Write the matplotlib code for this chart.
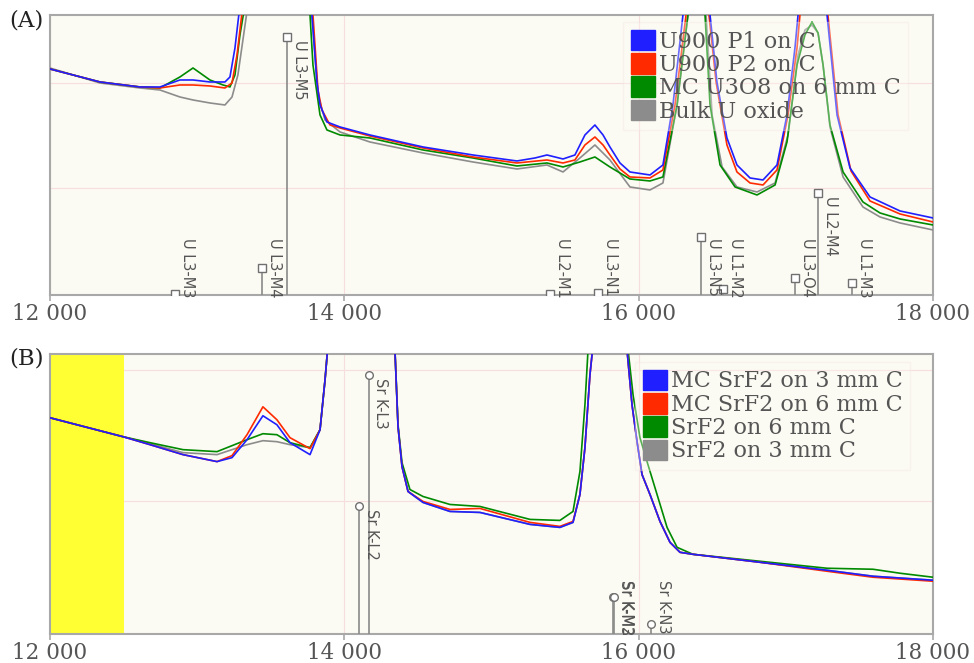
#!/usr/bin/env python3
"""Two-panel XRF spectra: (A) uranium samples, (B) SrF2 samples, with line markers."""

import matplotlib
import matplotlib.pyplot as plt
import matplotlib.patches as mpatches

matplotlib.use("Agg")

# ---------------------------------------------------------------------------
# Data (energy in eV, counts in arbitrary units;
# values above the axis limit are the off-scale peak tops)
# ---------------------------------------------------------------------------

A_P1 = [(12000, 226), (12340, 213), (12612, 208), (12747, 208), (12883, 215), (12972, 215),
        (13087, 213), (13189, 213), (13223, 218), (13257, 247), (13291, 290), (13550, 1200),
        (13780, 280), (13814, 213), (13835, 190), (13882, 173), (13971, 168), (14174, 160),
        (14535, 148), (14874, 140), (15173, 134), (15296, 137), (15377, 140), (15486, 136),
        (15567, 140), (15635, 160), (15703, 170), (15758, 160), (15805, 148), (15873, 132),
        (15941, 123), (16077, 120), (16165, 130), (16233, 190), (16301, 280), (16396, 1200),
        (16485, 280), (16532, 213), (16600, 157), (16668, 130), (16757, 117), (16845, 115),
        (16940, 130), (17008, 180), (17062, 247), (17083, 280), (17185, 1200), (17280, 280),
        (17348, 180), (17436, 127), (17572, 98), (17776, 84), (18000, 77)]

A_P2 = [(12000, 226), (12340, 213), (12612, 208), (12747, 207), (12883, 210), (12972, 210),
        (13087, 209), (13189, 207), (13237, 212), (13271, 240), (13311, 290), (13550, 1200),
        (13787, 280), (13821, 205), (13848, 185), (13903, 170), (13971, 167), (14174, 159),
        (14535, 147), (14874, 138), (15173, 132), (15377, 135), (15486, 132), (15567, 135),
        (15635, 150), (15703, 158), (15758, 150), (15805, 140), (15873, 126), (15941, 118),
        (16077, 117), (16165, 125), (16247, 190), (16322, 280), (16403, 1200), (16478, 280),
        (16526, 213), (16600, 150), (16668, 123), (16757, 112), (16845, 110), (16940, 125),
        (17015, 180), (17076, 247), (17096, 280), (17185, 1200), (17286, 280), (17355, 180),
        (17443, 124), (17572, 94), (17776, 81), (18000, 73)]

A_U3O8 = [(12000, 226), (12340, 213), (12612, 208), (12747, 207), (12883, 218), (12972, 227),
          (13087, 215), (13176, 210), (13223, 208), (13257, 220), (13291, 260), (13325, 290),
          (13550, 1200), (13767, 280), (13787, 230), (13835, 180), (13882, 165), (13971, 160),
          (14174, 157), (14535, 145), (14874, 137), (15173, 129), (15377, 132), (15486, 128),
          (15601, 133), (15703, 138), (15805, 128), (15941, 116), (16077, 114), (16165, 118),
          (16261, 190), (16335, 280), (16403, 1200), (16451, 280), (16485, 190), (16553, 130),
          (16655, 108), (16804, 100), (16927, 110), (17008, 153), (17076, 230), (17130, 260),
          (17178, 273), (17219, 262), (17253, 230), (17300, 170), (17389, 123), (17524, 93),
          (17640, 82), (17776, 76), (18000, 70)]

A_BULK = [(12000, 227), (12340, 212), (12612, 207), (12747, 205), (12883, 198), (12972, 195),
          (13087, 192), (13189, 190), (13237, 198), (13277, 220), (13311, 255), (13345, 290),
          (13550, 1200), (13780, 280), (13821, 200), (13869, 175), (13971, 163), (14174, 153),
          (14535, 142), (14874, 133), (15173, 126), (15377, 130), (15486, 123), (15601, 137),
          (15703, 150), (15805, 135), (15941, 108), (16077, 105), (16165, 112), (16261, 190),
          (16335, 280), (16403, 1200), (16458, 280), (16499, 180), (16567, 128), (16668, 108),
          (16804, 103), (16927, 112), (17015, 160), (17083, 240), (17130, 265), (17178, 270),
          (17219, 262), (17253, 230), (17300, 168), (17389, 118), (17524, 88), (17640, 78),
          (17776, 72), (18000, 65)]

B_MC3 = [(12000, 217), (12496, 198), (12680, 190), (12904, 180), (13135, 173), (13237, 177),
         (13339, 195), (13447, 219), (13542, 210), (13631, 192), (13767, 180), (13835, 205),
         (13869, 255), (13889, 290), (14120, 1200), (14344, 285), (14365, 208), (14392, 168),
         (14433, 143), (14535, 132), (14718, 123), (14922, 122), (15262, 110), (15465, 107),
         (15554, 112), (15601, 140), (15635, 187), (15669, 260), (15690, 290), (15805, 1200),
         (15921, 285), (15955, 230), (15989, 193), (16023, 160), (16077, 140), (16145, 113),
         (16213, 92), (16281, 82), (16369, 80), (16825, 72), (17280, 64), (17592, 58), (18000, 54)]

B_MC6 = [(12000, 217), (12496, 198), (12680, 190), (12904, 180), (13135, 173), (13237, 179),
         (13339, 200), (13447, 228), (13542, 215), (13631, 197), (13767, 186), (13835, 205),
         (13869, 255), (13889, 290), (14120, 1200), (14344, 285), (14365, 208), (14392, 168),
         (14433, 143), (14535, 133), (14718, 125), (14922, 126), (15262, 112), (15465, 108),
         (15554, 113), (15601, 140), (15635, 187), (15669, 260), (15690, 290), (15805, 1200),
         (15921, 285), (15955, 230), (15989, 193), (16023, 160), (16077, 140), (16145, 113),
         (16213, 92), (16281, 82), (16369, 80), (16825, 72), (17280, 63), (17592, 57), (18000, 53)]

B_S6 = [(12000, 217), (12496, 198), (12680, 192), (12904, 185), (13135, 183), (13237, 189),
        (13339, 195), (13447, 201), (13542, 200), (13631, 192), (13767, 187), (13835, 205),
        (13869, 255), (13889, 290), (14120, 1200), (14344, 285), (14365, 210), (14392, 172),
        (14446, 145), (14535, 138), (14718, 130), (14922, 128), (15262, 115), (15465, 114),
        (15554, 123), (15601, 163), (15635, 230), (15656, 285), (15792, 1200), (15928, 285),
        (15962, 240), (16009, 197), (16057, 173), (16125, 140), (16193, 107), (16261, 87),
        (16369, 80), (16825, 73), (17280, 66), (17592, 65), (17776, 61), (18000, 57)]

B_S3 = [(12000, 217), (12496, 198), (12680, 191), (12904, 182), (13135, 180), (13237, 185),
        (13339, 190), (13447, 194), (13542, 193), (13631, 190), (13767, 187), (13835, 205),
        (13869, 255), (13889, 290), (14120, 1200), (14344, 285), (14365, 208), (14392, 168),
        (14433, 143), (14535, 132), (14718, 123), (14922, 122), (15262, 110), (15465, 107),
        (15554, 112), (15601, 140), (15635, 187), (15669, 260), (15690, 290), (15805, 1200),
        (15921, 285), (15955, 230), (15989, 193), (16023, 160), (16077, 140), (16145, 113),
        (16213, 92), (16281, 82), (16369, 80), (16825, 72), (17280, 64), (17592, 58), (18000, 54)]

A_LABELS = ["U900 P1 on C", "U900 P2 on C", "MC U3O8 on 6 mm C", "Bulk U oxide"]
B_LABELS = ["MC SrF2 on 3 mm C", "MC SrF2 on 6 mm C", "SrF2 on 6 mm C", "SrF2 on 3 mm C"]

# emission line markers: energy, relative height, name
A_LINE_E = [12849, 13441, 13610, 15398, 15724, 16424, 16573, 17062, 17218, 17450]
A_LINE_H = [1, 27, 258, 1, 2, 58, 6, 17, 102, 12]
A_LINE_NAMES = ["U L3-M3", "U L3-M4", "U L3-M5", "U L2-M1", "U L3-N1",
                "U L3-N5", "U L1-M2", "U L3-O4", "U L2-M4", "U L1-M3"]

B_LINE_E = [14098, 14165, 15826, 15835, 16084]
B_LINE_H = [128, 260, 37, 37, 10]
B_LINE_NAMES = ["Sr K-L2", "Sr K-L3", "Sr K-M3", "Sr K-M2", "Sr K-N3"]

X_TICKS = [12000, 14000, 16000, 18000]
X_TICK_LABELS = ["12 000", "14 000", "16 000", "18 000"]

# ---------------------------------------------------------------------------
# Style
# ---------------------------------------------------------------------------

_COLORS = ["#1f1fff", "#ff2a00", "#008a00", "#8c8c8c"]
_DRAW_ORDER = [3, 2, 1, 0]          # gray first, blue on top
_BG = "#fbfaf3"
_TXT = "#555555"
_SPINE = "#a8a8a8"


def _style_axes(ax, ymax, grid_y):
    ax.set_facecolor(_BG)
    ax.set_xlim(12000, 18000)
    ax.set_ylim(0, ymax)
    ax.set_xticks(X_TICKS)
    ax.set_xticklabels(X_TICK_LABELS, family="DejaVu Serif", fontsize=15.5, color=_TXT)
    ax.set_yticks(grid_y)
    ax.tick_params(axis="y", left=False, labelleft=False)
    ax.tick_params(axis="x", direction="out", length=4, width=1.2, color=_SPINE, pad=2)
    ax.grid(color="#f7dede", linewidth=0.8)
    ax.set_axisbelow(True)
    for sp in ax.spines.values():
        sp.set_color(_SPINE)
        sp.set_linewidth(1.5)


def _draw_series(ax, series):
    for i in _DRAW_ORDER:
        xs, ys = zip(*series[i])
        ax.plot(xs, ys, color=_COLORS[i], linewidth=1.2, zorder=3)


def _draw_lines(ax, energies, heights, names, marker, min_label):
    for e, h, name in zip(energies, heights, names):
        ax.vlines(e, 0, h, color="#8a8a8a", linewidth=1.2, zorder=4)
        ax.plot(e, h, marker=marker, markersize=5.5, markerfacecolor="white",
                markeredgecolor="#707070", markeredgewidth=1.0, zorder=5)
        ax.annotate(name, xy=(e, max(h, min_label)), xytext=(3.5, -2),
                    textcoords="offset points", rotation=-90, ha="left", va="top",
                    fontsize=10.5, color=_TXT, family="DejaVu Sans", zorder=6)


def _legend(ax, labels, anchor):
    handles = [mpatches.Patch(color=c, label=l) for c, l in zip(_COLORS, labels)]
    leg = ax.legend(handles=handles, loc="upper right", bbox_to_anchor=anchor,
                    borderaxespad=0, prop={"family": "DejaVu Serif", "size": 16},
                    handlelength=1.1, handleheight=1.05, handletextpad=0.15,
                    labelspacing=0.02, borderpad=0.35, frameon=True,
                    fancybox=False, framealpha=0.35, facecolor=_BG,
                    edgecolor="#f1e6e0")
    for t in leg.get_texts():
        t.set_color(_TXT)
    leg.set_zorder(7)


def main() -> None:
    fig = plt.figure(figsize=(9.74, 6.63), dpi=100)
    ax_a = fig.add_axes([0.0513, 0.5551, 0.9066, 0.4223])
    ax_b = fig.add_axes([0.0513, 0.0437, 0.9066, 0.4224])

    # (A) uranium
    _style_axes(ax_a, 280, [107, 212])
    _draw_series(ax_a, [A_P1, A_P2, A_U3O8, A_BULK])
    _draw_lines(ax_a, A_LINE_E, A_LINE_H, A_LINE_NAMES, "s", 60)
    _legend(ax_a, A_LABELS, (0.972, 0.975))

    # (B) strontium
    _style_axes(ax_b, 281, [133, 265])
    ax_b.axvspan(12000, 12500, color="#ffff33", zorder=2, linewidth=0)
    _draw_series(ax_b, [B_MC3, B_MC6, B_S6, B_S3])
    _draw_lines(ax_b, B_LINE_E, B_LINE_H, B_LINE_NAMES, "o", 57)
    _legend(ax_b, B_LABELS, (0.974, 0.972))

    fig.text(0.009, 0.985, "(A)", family="DejaVu Serif", fontsize=16.5, va="top", color="#222222")
    fig.text(0.009, 0.476, "(B)", family="DejaVu Serif", fontsize=16.5, va="top", color="#222222")

    fig.savefig("out.png", dpi=100, facecolor="white")
    plt.close(fig)


if __name__ == "__main__":
    main()
